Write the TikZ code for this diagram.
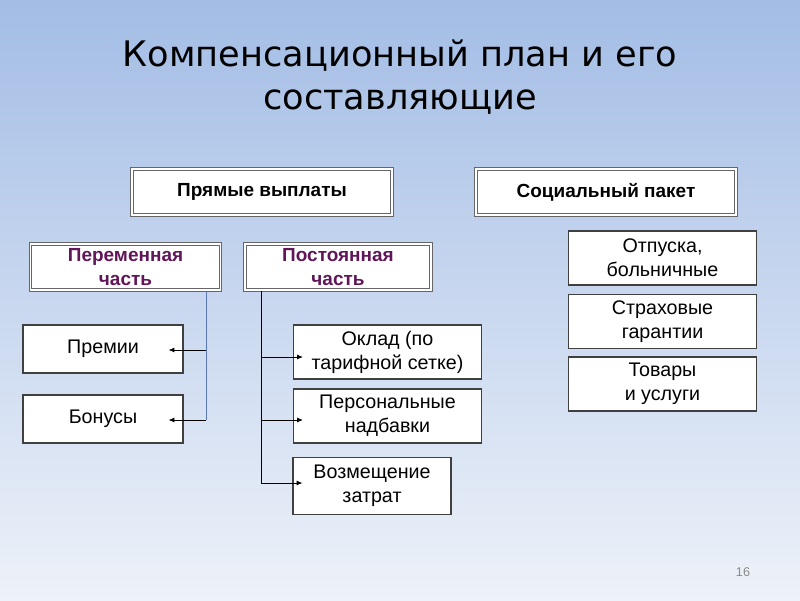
\documentclass[tikz,border=0pt]{standalone}
\usepackage{fontspec}
\setmainfont{Liberation Sans}
\newfontfamily\titlefont{DejaVu Sans}
\usetikzlibrary{arrows.meta,calc}
\definecolor{bgtop}{RGB}{163,189,229}
\definecolor{bgbot}{RGB}{238,242,249}
\definecolor{plum}{RGB}{96,22,88}
\definecolor{trunkblue}{RGB}{90,120,185}
\tikzset{
  headbox/.style={draw=black!60,line width=0.9pt,double=white,double distance=0.9pt,fill=white,
    inner sep=0pt,align=center,font=\fontsize{13.5}{16.5}\selectfont\bfseries},
  partbox/.style={headbox,text=plum},
  itembox/.style={draw=black!75,line width=0.9pt,fill=white,inner sep=0pt,
    align=center,font=\fontsize{14}{17}\selectfont},
  conn/.style={black,line width=0.5pt,-{Latex[length=4pt,width=3.5pt]}},
}
\begin{document}
\begin{tikzpicture}[x=0.025cm,y=-0.025cm]
  \shade[top color=bgtop,bottom color=bgbot] (0,0) rectangle (800,600);
  \useasboundingbox (0,0) rectangle (800,600);
  % title
  \node[font=\titlefont\fontsize{25}{31}\selectfont,align=center] (title) at (400,77)
    {Компенсационный план и его\\составляющие};
  % top level
  \node[headbox,minimum width=6.5cm,minimum height=1.15cm] (direct) at (262,192) {Прямые выплаты};
  \node[headbox,minimum width=6.5cm,minimum height=1.15cm] (social) at (606,192) {Социальный пакет};
  % direct payments
  \node[partbox,minimum width=4.75cm,minimum height=1.15cm] (var) at (125.5,267) {Переменная\\часть};
  \node[partbox,minimum width=4.65cm,minimum height=1.15cm] (fix) at (338,267) {Постоянная\\часть};
  \node[itembox,minimum width=4cm,minimum height=1.2cm] (prem) at (103,349) {Премии};
  \node[itembox,minimum width=4cm,minimum height=1.2cm] (bonus) at (103,419) {Бонусы};
  \node[itembox,minimum width=4.7cm,minimum height=1.35cm] (salary) at (387.5,352) {Оклад (по\\тарифной сетке)};
  \node[itembox,minimum width=4.7cm,minimum height=1.35cm] (pers) at (387.5,416) {Персональные\\надбавки};
  \node[itembox,minimum width=3.95cm,minimum height=1.42cm] (comp) at (372,486) {Возмещение\\затрат};
  % social package
  \node[itembox,minimum width=4.7cm,minimum height=1.35cm] (leave) at (662.5,258) {Отпуска,\\больничные};
  \node[itembox,minimum width=4.7cm,minimum height=1.35cm] (insur) at (662.5,321.5) {Страховые\\гарантии};
  \node[itembox,minimum width=4.7cm,minimum height=1.35cm] (goods) at (662.5,384) {Товары\\и услуги};
  % connectors
  \coordinate (vx) at (206,0);
  \coordinate (fx) at (261,0);
  \draw[trunkblue,line width=0.5pt] (var.south -| vx) -- ($(bonus.east -| vx)+(0,1)$);
  \draw[conn] ($(prem.east -| vx)+(0,1)$) -- ($(prem.east)+(-15,1)$);
  \draw[conn] ($(bonus.east -| vx)+(0,1)$) -- ($(bonus.east)+(-15,1)$);
  \draw[line width=0.5pt] (fix.south -| fx) -- ($(comp.west -| fx)+(0,-3)$);
  \draw[conn] ($(salary.west -| fx)+(0,5)$) -- ($(salary.west)+(10,5)$);
  \draw[conn] ($(pers.west -| fx)+(0,4)$) -- ($(pers.west)+(10,4)$);
  \draw[conn] ($(comp.west -| fx)+(0,-3)$) -- ($(comp.west)+(10,-3)$);
  % slide number
  \node[text=black!45,font=\fontsize{9}{10}\selectfont] (page) at (743,572) {16};
\end{tikzpicture}
\end{document}
